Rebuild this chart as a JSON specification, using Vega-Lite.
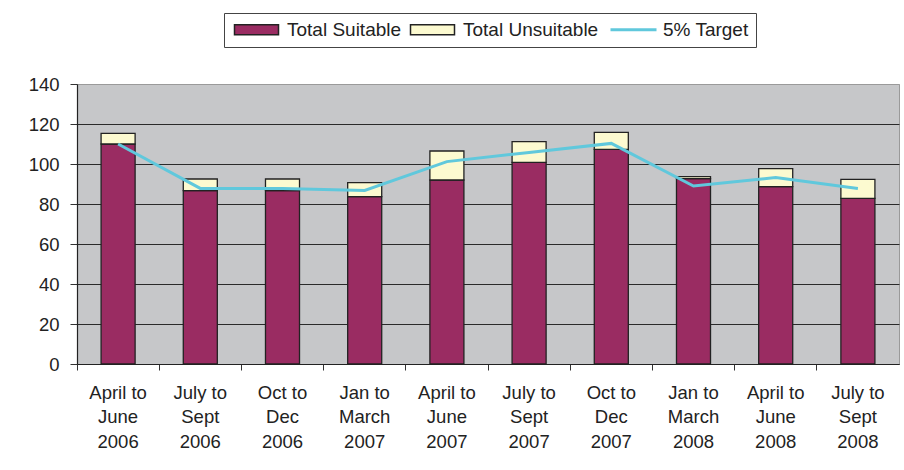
{
  "$schema": "https://vega.github.io/schema/vega-lite/v6.json",
  "width": 822,
  "height": 280,
  "autosize": "none",
  "padding": {"left": 77, "top": 84, "right": 5, "bottom": 106},
  "background": "white",
  "config": {
    "font": "Liberation Sans",
    "view": {"fill": "#C6C7C9", "stroke": "#9a9a9a", "strokeWidth": 1}
  },
  "data": {
    "values": [
      {"period": "April to June 2006", "series": "Total Suitable", "value": 110},
      {"period": "April to June 2006", "series": "Total Unsuitable", "value": 5.3},
      {"period": "April to June 2006", "series": "5% Target", "value": 110},
      {"period": "July to Sept 2006", "series": "Total Suitable", "value": 86.7},
      {"period": "July to Sept 2006", "series": "Total Unsuitable", "value": 5.8},
      {"period": "July to Sept 2006", "series": "5% Target", "value": 87.8},
      {"period": "Oct to Dec 2006", "series": "Total Suitable", "value": 86.7},
      {"period": "Oct to Dec 2006", "series": "Total Unsuitable", "value": 5.8},
      {"period": "Oct to Dec 2006", "series": "5% Target", "value": 87.8},
      {"period": "Jan to March 2007", "series": "Total Suitable", "value": 83.7},
      {"period": "Jan to March 2007", "series": "Total Unsuitable", "value": 7},
      {"period": "Jan to March 2007", "series": "5% Target", "value": 86.8},
      {"period": "April to June 2007", "series": "Total Suitable", "value": 92},
      {"period": "April to June 2007", "series": "Total Unsuitable", "value": 14.5},
      {"period": "April to June 2007", "series": "5% Target", "value": 101.2},
      {"period": "July to Sept 2007", "series": "Total Suitable", "value": 100.8},
      {"period": "July to Sept 2007", "series": "Total Unsuitable", "value": 10.4},
      {"period": "July to Sept 2007", "series": "5% Target", "value": 105.8},
      {"period": "Oct to Dec 2007", "series": "Total Suitable", "value": 107.3},
      {"period": "Oct to Dec 2007", "series": "Total Unsuitable", "value": 8.5},
      {"period": "Oct to Dec 2007", "series": "5% Target", "value": 110.3},
      {"period": "Jan to March 2008", "series": "Total Suitable", "value": 92.7},
      {"period": "Jan to March 2008", "series": "Total Unsuitable", "value": 1},
      {"period": "Jan to March 2008", "series": "5% Target", "value": 89},
      {"period": "April to June 2008", "series": "Total Suitable", "value": 88.7},
      {"period": "April to June 2008", "series": "Total Unsuitable", "value": 9},
      {"period": "April to June 2008", "series": "5% Target", "value": 93.2},
      {"period": "July to Sept 2008", "series": "Total Suitable", "value": 82.8},
      {"period": "July to Sept 2008", "series": "Total Unsuitable", "value": 9.5},
      {"period": "July to Sept 2008", "series": "5% Target", "value": 87.8}
    ]
  },
  "encoding": {
    "x": {
      "field": "period",
      "type": "nominal",
      "sort": null,
      "scale": {"paddingInner": 0, "paddingOuter": 0},
      "axis": {
        "title": null,
        "bandPosition": 0,
        "labelAngle": 0,
        "labelFontSize": 18.5,
        "labelColor": "#222",
        "labelBaseline": "top",
        "labelLineHeight": 24.5,
        "labelPadding": 13,
        "labelExpr": "[split(datum.label,' ')[0] + ' to', split(datum.label,' ')[2], split(datum.label,' ')[3]]",
        "tickSize": 6,
        "tickColor": "#333",
        "domainColor": "#222",
        "domainWidth": 1.2,
        "grid": false
      }
    },
    "y": {
      "field": "value",
      "type": "quantitative",
      "stack": true,
      "scale": {"domain": [0, 140], "nice": false},
      "axis": {
        "title": null,
        "values": [0, 20, 40, 60, 80, 100, 120, 140],
        "labelFontSize": 18.5,
        "labelColor": "#222",
        "labelPadding": 11,
        "tickSize": 7,
        "tickColor": "#333",
        "domainColor": "#222",
        "domainWidth": 1.2,
        "grid": true,
        "gridColor": {"condition": {"test": "datum.value == 140", "value": "#9a9a9a"}, "value": "#2a2a2a"},
        "gridWidth": 1,
        "gridOpacity": 1
      }
    }
  },
  "layer": [
    {
      "transform": [{"filter": "datum.series !== '5% Target'"}],
      "mark": {"type": "bar", "width": {"band": 0.414}},
      "encoding": {
        "order": {"field": "series", "sort": "ascending"},
        "stroke": {"value": "#222"},
        "strokeWidth": {"value": 1.3},
        "color": {
          "field": "series",
          "type": "nominal",
          "scale": {
            "domain": ["Total Suitable", "Total Unsuitable", "5% Target"],
            "range": ["#9A2C62", "#FCFAD0", "#60C8DC"]
          },
          "legend": {
            "orient": "none",
            "legendX": 147,
            "legendY": -71,
            "direction": "horizontal",
            "title": null,
            "fillColor": "white",
            "strokeColor": "#444",
            "padding": 7,
            "labelFontSize": 19,
            "labelColor": "#222",
            "labelOffset": 37,
            "columnPadding": 5,
            "symbolSize": 100,
            "symbolStrokeWidth": {"expr": "datum.value === '5% Target' ? 3 : 1.5"},
            "symbolType": {"expr": "datum.value === '5% Target' ? 'M-1.2,0H8' : 'M-1.2,-1H7.6V1H-1.2Z'"}
          }
        }
      }
    },
    {
      "transform": [{"filter": "datum.series === '5% Target'"}],
      "mark": {"type": "line"},
      "encoding": {
        "y": {"field": "value", "type": "quantitative", "stack": null},
        "strokeWidth": {"value": 3},
        "stroke": {
          "field": "series",
          "type": "nominal",
          "scale": {
            "domain": ["Total Suitable", "Total Unsuitable", "5% Target"],
            "range": ["#222222", "#222222", "#60C8DC"]
          },
          "legend": {"title": null}
        }
      }
    }
  ]
}
